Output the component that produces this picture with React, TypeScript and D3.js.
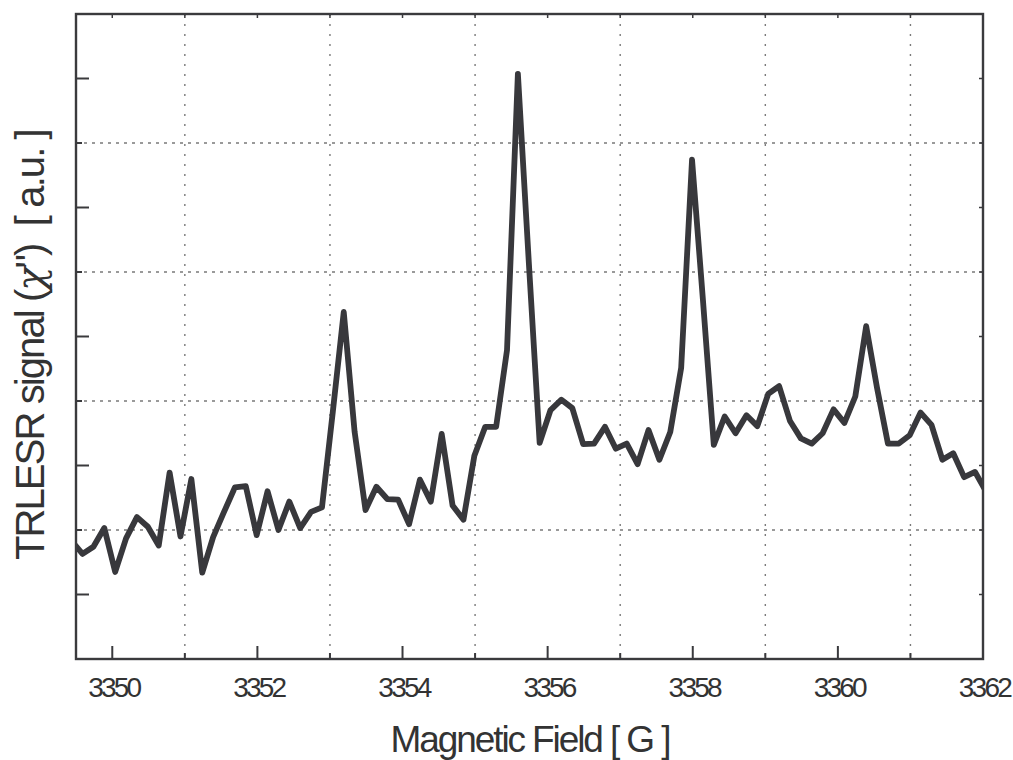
import React from "react";
import * as d3 from "d3";

const fields = [
  3349.44, 3349.59, 3349.74, 3349.89, 3350.04, 3350.19, 3350.34, 3350.49, 3350.64, 3350.79,
  3350.94, 3351.09, 3351.24, 3351.39, 3351.54, 3351.69, 3351.84, 3351.99, 3352.14, 3352.29,
  3352.44, 3352.59, 3352.74, 3352.89, 3353.04, 3353.19, 3353.34, 3353.49, 3353.64, 3353.79,
  3353.94, 3354.09, 3354.24, 3354.39, 3354.54, 3354.69, 3354.84, 3354.99, 3355.14, 3355.29,
  3355.44, 3355.59, 3355.74, 3355.89, 3356.04, 3356.19, 3356.34, 3356.49, 3356.64, 3356.79,
  3356.94, 3357.09, 3357.24, 3357.39, 3357.54, 3357.69, 3357.84, 3357.99, 3358.14, 3358.29,
  3358.44, 3358.59, 3358.74, 3358.89, 3359.04, 3359.19, 3359.34, 3359.49, 3359.64, 3359.79,
  3359.94, 3360.09, 3360.24, 3360.39, 3360.54, 3360.69, 3360.84, 3360.99, 3361.14, 3361.29,
  3361.44, 3361.59, 3361.74, 3361.89, 3362.04,
];

const signal = [
  1.83, 1.63, 1.74, 2.03, 1.35, 1.87, 2.2, 2.05, 1.76, 2.89,
  1.9, 2.79, 1.34, 1.89, 2.28, 2.66, 2.68, 1.92, 2.6, 2.0,
  2.44, 2.03, 2.28, 2.35, 3.84, 5.38, 3.52, 2.31, 2.67, 2.48,
  2.47, 2.09, 2.78, 2.44, 3.49, 2.38, 2.16, 3.15, 3.6, 3.6,
  4.79, 9.07, 6.16, 3.35, 3.86, 4.02, 3.89, 3.33, 3.34, 3.6,
  3.26, 3.34, 3.02, 3.55, 3.09, 3.52, 4.51, 7.74, 5.57, 3.32,
  3.76, 3.5, 3.78, 3.61, 4.11, 4.23, 3.69, 3.42, 3.34, 3.5,
  3.87, 3.66, 4.07, 5.16, 4.2, 3.34, 3.34, 3.47, 3.82, 3.63,
  3.09, 3.19, 2.82, 2.9, 2.6,
];

const xLabelTicks = [3350, 3352, 3354, 3356, 3358, 3360, 3362];
const xGridTicks = [3351, 3353, 3355, 3357, 3359, 3361];
const yLongTicks = [1, 3, 5, 7, 9];
const yGridTicks = [2, 4, 6, 8];

const L = 76, R = 983, T = 14, B = 659;
const AX = "#3a3a3d";
const GRID = "#7a7a7a";
const FONT = "'Liberation Sans', Arial, Helvetica, sans-serif";

export default function App() {
  const x = d3.scaleLinear().domain([3349.5, 3362]).range([L, R]);
  const y = d3.scaleLinear().domain([0, 10]).range([B, T]);
  const pts = fields.map((f, i) => [f, signal[i]] as [number, number]);
  const line = d3
    .line<[number, number]>()
    .x((d) => x(d[0]))
    .y((d) => y(d[1]))(pts) as string;

  return (
    <svg
      width={1013}
      height={760}
      style={{ position: "absolute", left: 0, top: 0, display: "block", background: "#fff" }}
    >
      <defs>
        <clipPath id="plotclip">
          <rect x={L} y={T} width={R - L} height={B - T} />
        </clipPath>
      </defs>
      {/* grid */}
      {xGridTicks.map((t) => (
        <line key={"xg" + t} x1={x(t)} x2={x(t)} y1={T} y2={B} stroke={GRID} strokeWidth={1.4} strokeDasharray="2,8" />
      ))}
      {yGridTicks.map((t) => (
        <line key={"yg" + t} x1={L} x2={R} y1={y(t)} y2={y(t)} stroke={GRID} strokeWidth={1.4} strokeDasharray="3,5" />
      ))}
      {/* ticks */}
      {xLabelTicks.map((t) => (
        <g key={"xt" + t}>
          <line x1={x(t)} x2={x(t)} y1={B} y2={B - 13} stroke={AX} strokeWidth={2} />
          <line x1={x(t)} x2={x(t)} y1={T} y2={T + 4} stroke={AX} strokeWidth={1.5} />
        </g>
      ))}
      {xGridTicks.map((t) => (
        <g key={"xs" + t}>
          <line x1={x(t)} x2={x(t)} y1={B} y2={B - 6} stroke={AX} strokeWidth={2} />
          <line x1={x(t)} x2={x(t)} y1={T} y2={T + 4} stroke={AX} strokeWidth={1.5} />
        </g>
      ))}
      {yLongTicks.map((t) => (
        <g key={"yt" + t}>
          <line x1={L} x2={L + 13} y1={y(t)} y2={y(t)} stroke={AX} strokeWidth={2} />
          <line x1={R} x2={R - 4} y1={y(t)} y2={y(t)} stroke={AX} strokeWidth={1.5} />
        </g>
      ))}
      {yGridTicks.map((t) => (
        <g key={"ys" + t}>
          <line x1={L} x2={L + 6} y1={y(t)} y2={y(t)} stroke={AX} strokeWidth={2} />
          <line x1={R} x2={R - 4} y1={y(t)} y2={y(t)} stroke={AX} strokeWidth={1.5} />
        </g>
      ))}
      {/* data line */}
      <path
        d={line}
        fill="none"
        stroke="#38383c"
        strokeWidth={5.8}
        strokeLinejoin="round"
        strokeLinecap="butt"
        clipPath="url(#plotclip)"
      />
      {/* frame */}
      <rect x={L} y={T} width={R - L} height={B - T} fill="none" stroke={AX} strokeWidth={2.4} />
      {/* tick labels */}
      {xLabelTicks.map((t) => (
        <text
          key={"xl" + t}
          x={x(t) + 1.4}
          y={697}
          textAnchor="middle"
          fontFamily={FONT}
          fontSize={28}
          letterSpacing={-2.8}
          fill="#333"
        >
          {t}
        </text>
      ))}
      {/* axis titles */}
      <text
        x={530}
        y={752}
        textAnchor="middle"
        fontFamily={FONT}
        fontSize={37}
        letterSpacing={-2.1}
        fill="#333"
      >
        Magnetic Field [ G ]
      </text>
      <text
        transform="translate(44,560) rotate(-90)"
        textAnchor="start"
        fontFamily={FONT}
        fontSize={40}
        letterSpacing={-1.9}
        fill="#333"
        style={{ whiteSpace: "pre" }}
      >
        {"TRLESR signal ("}
        <tspan fontFamily="'DejaVu Serif', serif" fontStyle="italic">χ</tspan>
        {"\")  [ a.u. ]"}
      </text>
    </svg>
  );
}
